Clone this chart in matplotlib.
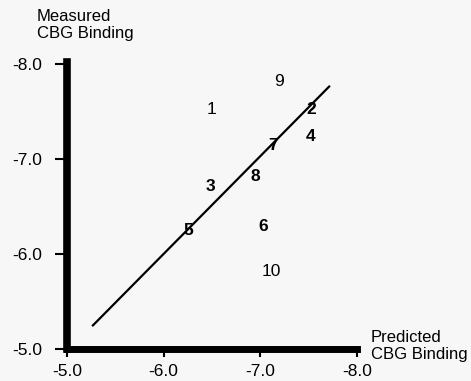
import matplotlib
matplotlib.use("Agg")
import matplotlib.pyplot as plt

plt.rcParams['font.family'] = ['Liberation Sans', 'DejaVu Sans']

# compound labels and their predicted / measured CBG binding
labels = ['1', '2', '3', '4', '5', '6', '7', '8', '9', '10']
predicted = [-6.50, -7.53, -6.48, -7.52, -6.25, -7.03, -7.13, -6.95, -7.19, -7.11]
measured = [-7.52, -7.52, -6.71, -7.24, -6.25, -6.29, -7.14, -6.82, -7.81, -5.82]
bold = [False, True, True, True, True, True, True, True, False, False]

# regression line endpoints
fit_x = [-5.26, -7.72]
fit_y = [-5.24, -7.77]

ticks = [-5.0, -6.0, -7.0, -8.0]
tick_labels = ['-5.0', '-6.0', '-7.0', '-8.0']

bg = '#f7f7f7'
fig = plt.figure(figsize=(4.71, 3.81), dpi=100, facecolor=bg)
ax = fig.add_axes([67 / 471, 1 - 349 / 381, 290 / 471, 287 / 381])
ax.set_facecolor(bg)

ax.plot(fit_x, fit_y, color='black', lw=1.6, solid_capstyle='butt')
for lab, px, my, b in zip(labels, predicted, measured, bold):
    ax.text(px, my, lab, ha='center', va='center', fontsize=12.5,
            fontweight='bold' if b else 'normal', color='black')

ax.set_xlim(-5, -8)
ax.set_ylim(-5, -8.02)

for s in ['top', 'right']:
    ax.spines[s].set_visible(False)
ax.spines['left'].set_linewidth(5.5)
ax.spines['bottom'].set_linewidth(5)

ax.set_xticks(ticks)
ax.set_xticklabels(tick_labels)
ax.set_yticks(ticks)
ax.set_yticklabels(tick_labels)
ax.tick_params(axis='y', direction='out', length=9, width=1.5, pad=9, labelsize=12.5)
ax.tick_params(axis='x', direction='out', length=6, width=1.5, pad=5, labelsize=12.5)

fig.text(37 / 471, 1 - 9 / 381, 'Measured\nCBG Binding', ha='left', va='top',
         fontsize=12, linespacing=1.2)
fig.text(371 / 471, 1 - 330 / 381, 'Predicted\nCBG Binding', ha='left', va='top',
         fontsize=12, linespacing=1.2)

fig.savefig('out.png', dpi=100, facecolor=bg)
